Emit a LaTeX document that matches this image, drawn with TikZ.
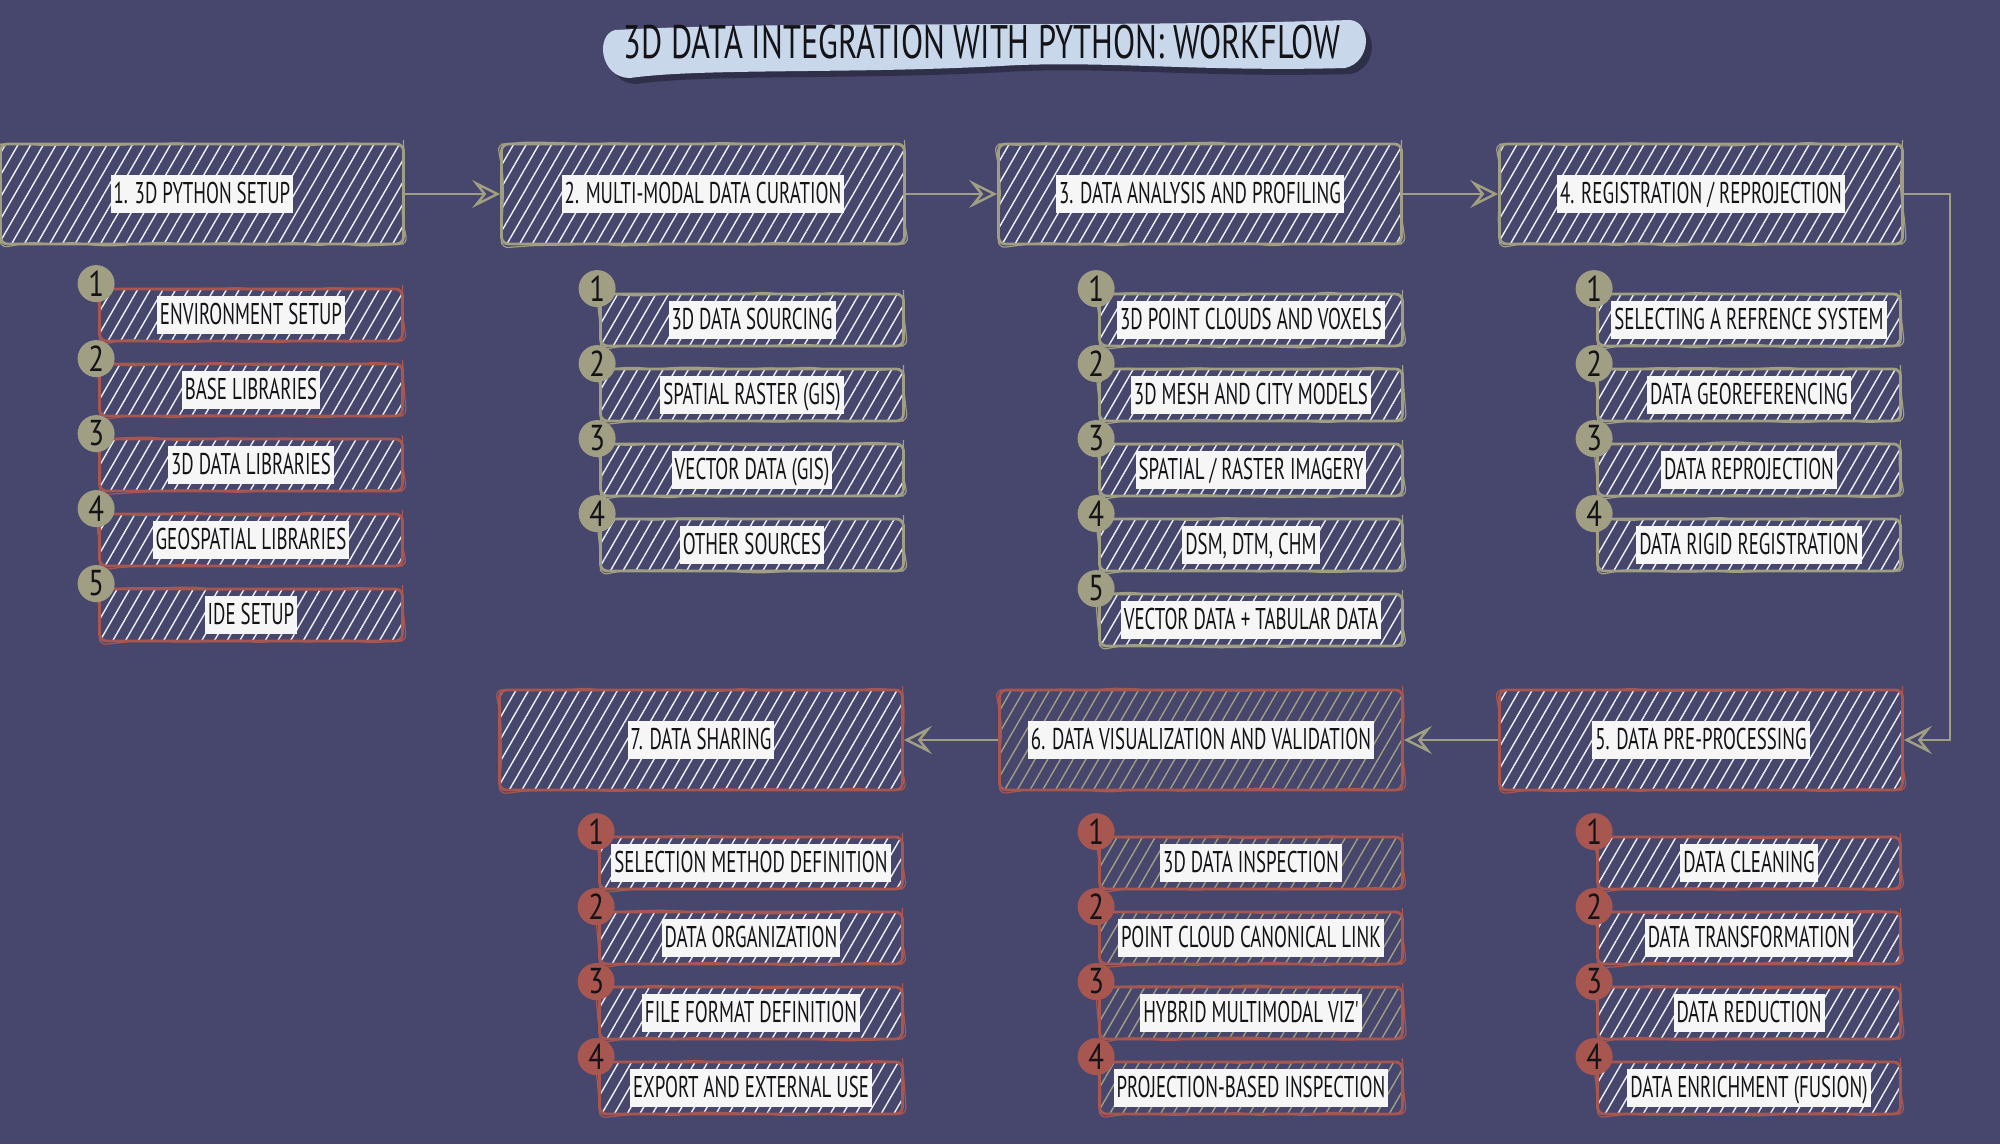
\documentclass[tikz,border=0pt]{standalone}
\usepackage{fontspec}
\usetikzlibrary{patterns.meta,arrows.meta,decorations.pathmorphing}
\newfontfamily\hand[FakeStretch=0.63]{PT Sans}
\newfontfamily\handT[FakeStretch=0.69]{PT Sans}
\newfontfamily\handN[FakeStretch=0.8]{PT Sans}
\definecolor{bgc}{RGB}{71,70,108}
\definecolor{khaki}{RGB}{160,159,132}
\definecolor{redc}{RGB}{168,86,80}
\definecolor{hatchw}{RGB}{238,242,250}
\definecolor{lblbg}{RGB}{246,246,246}
\definecolor{titlebg}{RGB}{201,215,235}
\definecolor{ink}{RGB}{20,20,24}
\pgfmathsetseed{7}
\tikzset{
  sketch/.style={line width=2.8pt, rounded corners=7pt,
    postaction={draw, line width=1.2pt, decorate,
      decoration={random steps, segment length=22pt, amplitude=2pt}}},
  mainbox/.style={rectangle, sketch, minimum width=403pt, minimum height=100pt, inner sep=0pt},
  subbox/.style={rectangle, sketch, minimum width=303pt, minimum height=52pt, inner sep=0pt},
  edgeK/.style={draw=khaki},
  edgeR/.style={draw=redc},
  hatchW/.style={pattern={Lines[angle=60,distance=11pt,line width=1.4pt]}, pattern color=hatchw},
  hatchK/.style={pattern={Lines[angle=60,distance=11pt,line width=1.4pt]}, pattern color=khaki},
  lbl/.style={fill=lblbg, text=ink, font=\hand\fontsize{30}{32}\selectfont,
    inner xsep=3pt, inner ysep=6pt, text height=22pt, text depth=4pt},
  num/.style={circle, minimum size=37pt, inner sep=0pt, text=ink,
    font=\handN\fontsize{36}{38}\selectfont},
  conn/.style={draw=khaki, line width=2.5pt,
    -{Stealth[open, length=28pt, width=28pt, inset=11pt, line width=2.5pt]}},
}
\begin{document}
\begin{tikzpicture}[x=1pt,y=-1pt]
\fill[bgc] (0,0) rectangle (2000,1144);
\useasboundingbox (0,0) rectangle (2000,1144);
% title bubble
\fill[black!40!bgc, opacity=0.8] (621,36) .. controls (800,26) and (1100,34) .. (1356,26) .. controls (1378,28) and (1378,68) .. (1351,74) .. controls (1200,78) and (1100,66) .. (1006,72) .. controls (856,80) and (706,74) .. (636,84) .. controls (606,84) and (601,41) .. (621,36) -- cycle;
\fill[titlebg] (615,30) .. controls (800,20) and (1100,28) .. (1350,20) .. controls (1372,22) and (1372,62) .. (1345,68) .. controls (1200,72) and (1100,60) .. (1000,66) .. controls (850,74) and (700,68) .. (630,78) .. controls (600,78) and (595,35) .. (615,30) -- cycle;
\node[text=ink, font=\handT\fontsize{47}{50}\selectfont] (title) at (982,42) {3D DATA INTEGRATION WITH PYTHON: WORKFLOW};
% main boxes
\node[mainbox, edgeK, hatchW] (m1) at (202,194) {};
\node[mainbox, edgeK, hatchW] (m2) at (703,194) {};
\node[mainbox, edgeK, hatchW] (m3) at (1200,194) {};
\node[mainbox, edgeK, hatchW] (m4) at (1701,194) {};
\node[mainbox, edgeR, hatchW] (m7) at (701,740) {};
\node[mainbox, edgeR, hatchK] (m6) at (1201,740) {};
\node[mainbox, edgeR, hatchW] (m5) at (1701,740) {};
\node[lbl] (m1t) at (m1) {1. 3D PYTHON SETUP};
\node[lbl] (m2t) at (m2) {2. MULTI-MODAL DATA CURATION};
\node[lbl] (m3t) at (m3) {3. DATA ANALYSIS AND PROFILING};
\node[lbl] (m4t) at (m4) {4. REGISTRATION / REPROJECTION};
\node[lbl] (m5t) at (m5) {5. DATA PRE-PROCESSING};
\node[lbl] (m6t) at (m6) {6. DATA VISUALIZATION AND VALIDATION};
\node[lbl] (m7t) at (m7) {7. DATA SHARING};
% connectors
\draw[conn] (m1) -- (m2);
\draw[conn] (m2) -- (m3);
\draw[conn] (m3) -- (m4);
\draw[conn] (m4.east) -- ++(46,0) |- (m5.east);
\draw[conn] (m5) -- (m6);
\draw[conn] (m6) -- (m7);
% column 1
\foreach \t [count=\i] in {ENVIRONMENT SETUP, BASE LIBRARIES, 3D DATA LIBRARIES, GEOSPATIAL LIBRARIES, IDE SETUP} {
  \node[subbox, edgeR, hatchW] (a\i) at (251,{240+75*\i}) {};
  \node[lbl] (a\i-t) at (a\i) {\t};
  \node[num, fill=khaki] (a\i-n) at ([shift={(-2,-4)}]a\i.north west) {\i};
}
% column 2
\foreach \t [count=\i] in {3D DATA SOURCING, SPATIAL RASTER (GIS), VECTOR DATA (GIS), OTHER SOURCES} {
  \node[subbox, edgeK, hatchW] (b\i) at (752,{245+75*\i}) {};
  \node[lbl] (b\i-t) at (b\i) {\t};
  \node[num, fill=khaki] (b\i-n) at ([shift={(-2,-4)}]b\i.north west) {\i};
}
% column 3
\foreach \t [count=\i] in {3D POINT CLOUDS AND VOXELS, 3D MESH AND CITY MODELS, SPATIAL / RASTER IMAGERY, {DSM, DTM, CHM}, VECTOR DATA + TABULAR DATA} {
  \node[subbox, edgeK, hatchW] (c\i) at (1251,{245+75*\i}) {};
  \node[lbl] (c\i-t) at (c\i) {\t};
  \node[num, fill=khaki] (c\i-n) at ([shift={(-2,-4)}]c\i.north west) {\i};
}
% column 4
\foreach \t [count=\i] in {SELECTING A REFRENCE SYSTEM, DATA GEOREFERENCING, DATA REPROJECTION, DATA RIGID REGISTRATION} {
  \node[subbox, edgeK, hatchW] (d\i) at (1749,{245+75*\i}) {};
  \node[lbl] (d\i-t) at (d\i) {\t};
  \node[num, fill=khaki] (d\i-n) at ([shift={(-2,-4)}]d\i.north west) {\i};
}
% column 7
\foreach \t [count=\i] in {SELECTION METHOD DEFINITION, DATA ORGANIZATION, FILE FORMAT DEFINITION, EXPORT AND EXTERNAL USE} {
  \node[subbox, edgeR, hatchW] (g\i) at (751,{788+75*\i}) {};
  \node[lbl] (g\i-t) at (g\i) {\t};
  \node[num, fill=redc] (g\i-n) at ([shift={(-2,-4)}]g\i.north west) {\i};
}
% column 6
\foreach \t [count=\i] in {3D DATA INSPECTION, POINT CLOUD CANONICAL LINK, HYBRID MULTIMODAL VIZ', PROJECTION-BASED INSPECTION} {
  \node[subbox, edgeR, hatchK] (f\i) at (1251,{788+75*\i}) {};
  \node[lbl] (f\i-t) at (f\i) {\t};
  \node[num, fill=redc] (f\i-n) at ([shift={(-2,-4)}]f\i.north west) {\i};
}
% column 5
\foreach \t [count=\i] in {DATA CLEANING, DATA TRANSFORMATION, DATA REDUCTION, DATA ENRICHMENT (FUSION)} {
  \node[subbox, edgeR, hatchW] (e\i) at (1749,{788+75*\i}) {};
  \node[lbl] (e\i-t) at (e\i) {\t};
  \node[num, fill=redc] (e\i-n) at ([shift={(-2,-4)}]e\i.north west) {\i};
}
\end{tikzpicture}
\end{document}
